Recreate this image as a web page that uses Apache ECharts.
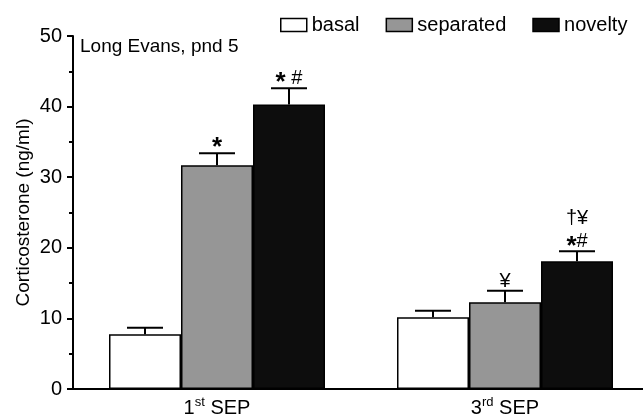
<!DOCTYPE html>
<html>
<head>
<meta charset="utf-8">
<script src="https://cdn.jsdelivr.net/npm/echarts@6/dist/echarts.min.js"></script>
<style>html,body{margin:0;padding:0;background:#fff}#c{width:643px;height:417px}</style>
</head>
<body>
<div id="c"></div>
<script>
// ---- data ----
var categories = ['1st SEP', '3rd SEP'];
var seriesNames = ['basal', 'separated', 'novelty'];
var basal = [7.75, 10.15];
var separated = [31.7, 12.3];
var novelty = [40.3, 18.1];
var basalErr = [0.93, 0.95];
var separatedErr = [1.7, 1.6];
var noveltyErr = [2.3, 1.4];
var basalMarks = ['', ''];
var separatedMarks = ['*', '¥'];
var noveltyMarks = ['* #', '†¥\n*#'];
var yTicks = [0, 10, 20, 30, 40, 50];

var FONT = '"Liberation Sans", Arial, sans-serif';
var colors = ['#ffffff', '#969696', '#0d0d0d'];
var values = [basal, separated, novelty];
var errs = [basalErr, separatedErr, noveltyErr];
var marks = [basalMarks, separatedMarks, noveltyMarks];

var chart = echarts.init(document.getElementById('c'), null, {renderer: 'canvas'});

function markRich(m) {
  return m.split('\n').map(function (line) {
    return line.split('').map(function (ch) {
      if (ch === '*') return '{st|*}';
      if (ch === ' ') return '{sp| }';
      return '{o|' + ch + '}';
    }).join('');
  }).join('\n');
}

var series = [];
seriesNames.forEach(function (name, i) {
  series.push({
    name: name,
    type: 'bar',
    data: values[i],
    barWidth: '25%',
    barGap: '0%',
    itemStyle: {color: colors[i], borderColor: '#000', borderWidth: 1.5},
    emphasis: {disabled: true},
    silent: true
  });
});
seriesNames.forEach(function (name, i) {
  var d = values[i].map(function (v, k) { return [k, v, errs[i][k], marks[i][k]]; });
  series.push({
    type: 'custom',
    silent: true,
    data: d,
    z: 5,
    renderItem: function (params, api) {
      var k = api.value(0), v = api.value(1), e = api.value(2);
      var catW = api.size([1, 0])[0];
      var off = (i - 1) * catW * 0.25;
      var base = api.coord([k, v]);
      var top = api.coord([k, v + e]);
      var x = base[0] + off;
      var capHalf = catW * 0.0625;
      var children = [
        {type: 'line', shape: {x1: x, y1: base[1], x2: x, y2: top[1]}, style: {stroke: '#000', lineWidth: 2}},
        {type: 'line', shape: {x1: x - capHalf, y1: top[1], x2: x + capHalf, y2: top[1]}, style: {stroke: '#000', lineWidth: 2}}
      ];
      var m = d[params.dataIndex][3];
      if (m) {
        children.push({
          type: 'text',
          style: {
            text: markRich(m), x: x, y: top[1] + 2,
            align: 'center', verticalAlign: 'bottom',
            fill: '#000',
            rich: {
              st: {font: 'bold 26px ' + FONT, lineHeight: 23, padding: [9, 0, 0, 0], fill: '#000'},
              o: {font: '20px ' + FONT, lineHeight: 23, fill: '#000'},
              sp: {font: '20px ' + FONT, lineHeight: 23, fill: '#000'}
            }
          }
        });
      }
      return {type: 'group', children: children};
    }
  });
});

chart.setOption({
  animation: false,
  textStyle: {fontFamily: FONT},
  grid: {left: 73, top: 36, width: 576, bottom: 28, containLabel: false, outerBoundsMode: 'none'},
  title: {
    text: 'Long Evans, pnd 5', left: 75, top: 32,
    textStyle: {fontFamily: FONT, fontSize: 19, fontWeight: 'normal', color: '#000'}
  },
  legend: {
    data: seriesNames,
    left: 275, top: 10,
    itemWidth: 26, itemHeight: 13, itemGap: 26,
    icon: 'rect',
    textStyle: {fontFamily: FONT, fontSize: 20, color: '#000'},
    itemStyle: {borderColor: '#000', borderWidth: 1.5}
  },
  xAxis: {
    type: 'category',
    data: categories,
    axisLine: {lineStyle: {color: '#000', width: 2}},
    axisTick: {show: false},
    axisLabel: {
      margin: 7,
      formatter: function (v) {
        var m = v.match(/^(\d)(st|nd|rd|th)\s(.*)$/);
        return '{n|' + m[1] + '}{s|' + m[2] + '}{n| ' + m[3] + '}';
      },
      rich: {
        n: {fontFamily: FONT, fontSize: 20, color: '#000', verticalAlign: 'bottom', lineHeight: 22},
        s: {fontFamily: FONT, fontSize: 13, color: '#000', verticalAlign: 'top', lineHeight: 22, padding: [0, 0, 12, 0]}
      }
    }
  },
  yAxis: {
    type: 'value',
    min: yTicks[0], max: yTicks[yTicks.length - 1], interval: 10,
    name: 'Corticosterone (ng/ml)',
    nameLocation: 'middle', nameGap: 40, nameMoveOverlap: false,
    nameTextStyle: {fontFamily: FONT, fontSize: 19, color: '#000'},
    axisLine: {show: true, lineStyle: {color: '#000', width: 2}},
    axisTick: {show: true, length: 6, lineStyle: {color: '#000', width: 2}},
    minorTick: {show: true, splitNumber: 2, length: 4, lineStyle: {color: '#000', width: 2}},
    splitLine: {show: false},
    axisLabel: {fontFamily: FONT, fontSize: 20, color: '#000', margin: 11}
  },
  series: series
});
</script>
</body>
</html>
